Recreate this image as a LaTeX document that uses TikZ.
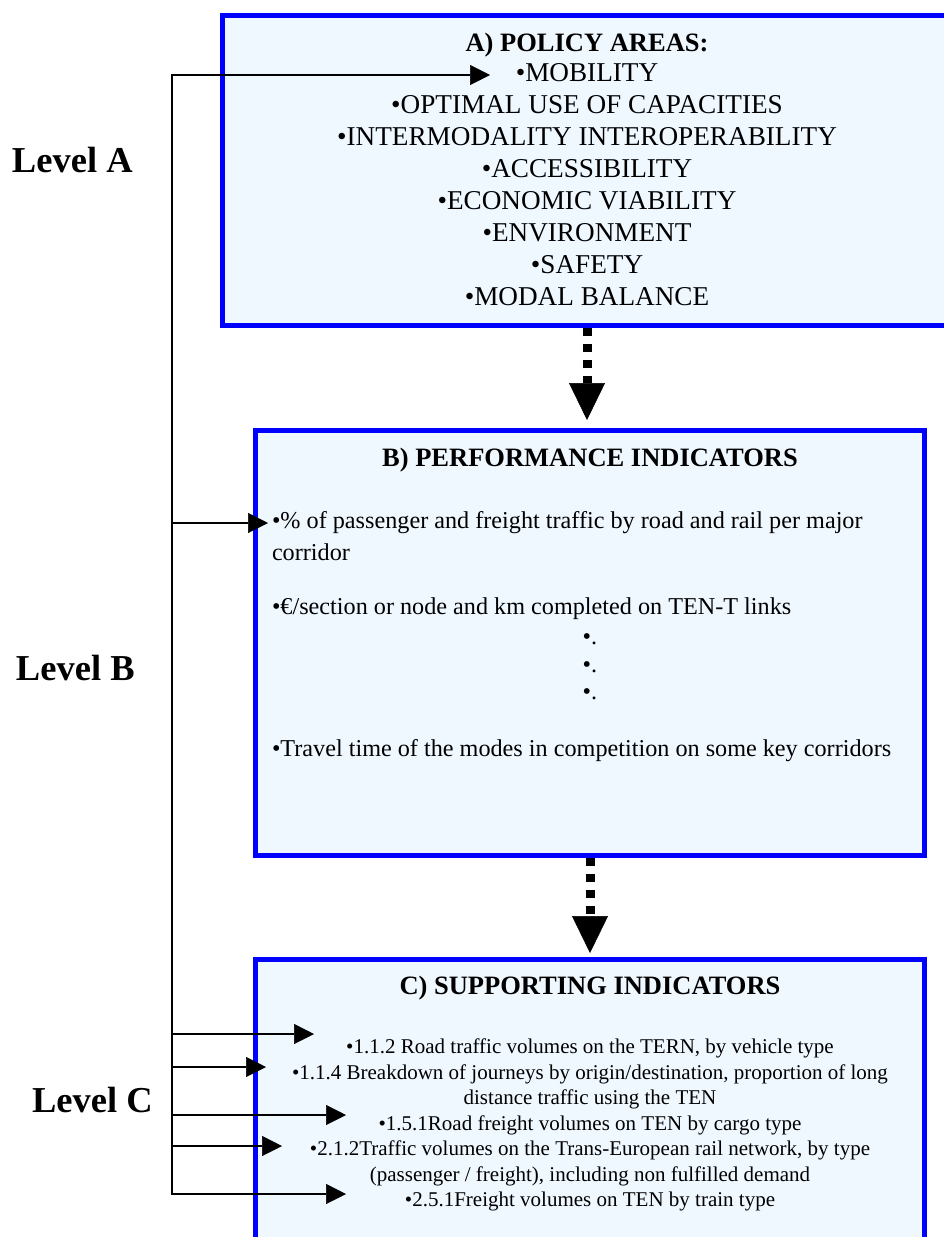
\documentclass[tikz,border=0pt]{standalone}
\usepackage{fontspec}
\setmainfont{Liberation Serif}
\usetikzlibrary{arrows.meta}
\definecolor{boxfill}{HTML}{F0F8FF}
\definecolor{boxline}{HTML}{0000FF}
\begin{document}
\begin{tikzpicture}[x=1pt,y=-1pt,
  box/.style={draw=boxline, fill=boxfill, line width=5pt, rectangle, inner sep=0pt, outer sep=0pt, anchor=north west},
  txt/.style={inner sep=0pt, outer sep=0pt, anchor=base},
  ttl/.style={txt, font=\fontsize{26.5}{30}\selectfont\bfseries},
  alist/.style={txt, font=\fontsize{27.2}{30}\selectfont},
  btext/.style={txt, anchor=base west, font=\fontsize{24.2}{28}\selectfont},
  bdot/.style={txt, font=\fontsize{24.2}{28}\selectfont},
  ctext/.style={txt, font=\fontsize{21}{25}\selectfont},
  level/.style={inner sep=0pt, outer sep=0pt, anchor=base west, font=\fontsize{36.5}{40}\selectfont\bfseries},
  flow/.style={line width=9pt, dash pattern=on 8pt off 8pt, -{Triangle[width=36pt,length=37pt,line width=0.5pt]}},
  link/.style={line width=2pt, -{Triangle[width=20pt,length=20pt,line width=0.5pt]}},
  trunk/.style={line width=2pt, line cap=rect}
]
\useasboundingbox (0,0) rectangle (944,1237);
\clip (0,0) rectangle (944,1237);
\fill[white] (0,0) rectangle (944,1237);

% boxes
\node[box, minimum width=729pt, minimum height=310pt] (A) at (222.5,15.5) {};
\node[box, minimum width=669pt, minimum height=425pt] (B) at (255.5,430.5) {};
\node[box, minimum width=669pt, minimum height=400pt] (C) at (255.5,959.5) {};

% box A text
\node[ttl] (a0) at (587,51) {A) POLICY AREAS:};
\node[alist] (a1) at (587,81) {•MOBILITY};
\node[alist] (a2) at (587,113) {•OPTIMAL USE OF CAPACITIES};
\node[alist] (a3) at (587,145) {•INTERMODALITY INTEROPERABILITY};
\node[alist] (a4) at (587,177) {•ACCESSIBILITY};
\node[alist] (a5) at (587,209) {•ECONOMIC VIABILITY};
\node[alist] (a6) at (587,241) {•ENVIRONMENT};
\node[alist] (a7) at (587,273) {•SAFETY};
\node[alist] (a8) at (587,305) {•MODAL BALANCE};

% box B text
\node[ttl] (b0) at (590,466) {B) PERFORMANCE INDICATORS};
\node[btext] (b1) at (272,528) {•\% of passenger and freight traffic by road and rail per major};
\node[btext] (b2) at (272,560) {corridor};
\node[btext] (b3) at (272,614) {•€/section or node and km completed on TEN-T links};
\node[bdot] (b4) at (590,644) {•.};
\node[bdot] (b5) at (590,672) {•.};
\node[bdot] (b6) at (590,699) {•.};
\node[btext] (b7) at (272,756) {•Travel time of the modes in competition on some key corridors};

% box C text
\node[ttl] (c0) at (590,994) {C) SUPPORTING INDICATORS};
\node[ctext] (c1) at (590,1053.5) {•1.1.2 Road traffic volumes on the TERN, by vehicle type};
\node[ctext] (c2) at (590,1079) {•1.1.4 Breakdown of journeys by origin/destination, proportion of long};
\node[ctext] (c3) at (590,1104.5) {distance traffic using the TEN};
\node[ctext] (c4) at (590,1130) {•1.5.1Road freight volumes on TEN by cargo type};
\node[ctext] (c5) at (590,1155.5) {•2.1.2Traffic volumes on the Trans-European rail network, by type};
\node[ctext] (c6) at (590,1181) {(passenger / freight), including non fulfilled demand};
\node[ctext] (c7) at (590,1206.5) {•2.5.1Freight volumes on TEN by train type};

% level labels
\node[level] (LA) at (12,172) {Level A};
\node[level] (LB) at (16,680) {Level B};
\node[level] (LC) at (32,1112) {Level C};

% flow arrows between boxes
\draw[flow, shorten <=2.5pt, shorten >=10.5pt] (A.south) -- (A.south |- B.north);
\draw[flow, shorten <=2.5pt, shorten >=6.5pt] (B.south) -- (C.north);

% trunk and branch arrows
\coordinate (tA) at (172,75);
\coordinate (pA) at (490,75);
\coordinate (tB) at (172,523);
\coordinate (pB) at (268,523);
\coordinate (t1) at (172,1034);
\coordinate (p1) at (314,1034);
\coordinate (t2) at (172,1067);
\coordinate (p2) at (266,1067);
\coordinate (t3) at (172,1115);
\coordinate (p3) at (346,1115);
\coordinate (t4) at (172,1146);
\coordinate (p4) at (282,1146);
\coordinate (t5) at (172,1194);
\coordinate (p5) at (346,1194);

\draw[trunk] (tA) -- (t5);
\draw[link] (tA) -- (pA);
\draw[link] (tB) -- (pB);
\draw[link] (t1) -- (p1);
\draw[link] (t2) -- (p2);
\draw[link] (t3) -- (p3);
\draw[link] (t4) -- (p4);
\draw[link] (t5) -- (p5);
\end{tikzpicture}
\end{document}
